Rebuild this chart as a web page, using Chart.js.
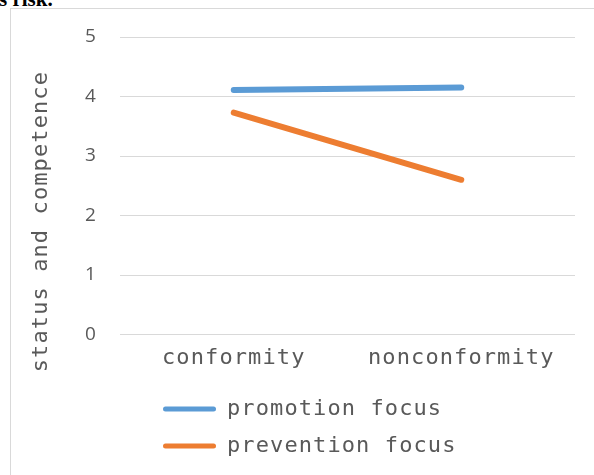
<!DOCTYPE html>
<html>
<head>
    <title>status and competence</title>
    <script src="https://cdn.jsdelivr.net/npm/chart.js"></script>
    <style>
        html, body { margin: 0; padding: 0; background: #fff; overflow: hidden; }
        .caption {
            position: absolute;
            left: -1px;
            top: -11px;
            font: bold 21px "Liberation Serif", serif;
            line-height: 1;
            color: #000;
            white-space: nowrap;
        }
        .chart-container {
            position: absolute;
            left: 10px;
            top: 8px;
            width: 598px;
            height: 470px;
            border: 1px solid #d9d9d9;
        }
    </style>
</head>
<body>
    <div class="caption">s risk.</div>
    <div class="chart-container">
        <canvas id="focusChart" width="598" height="470"></canvas>
    </div>

    <script>
        const categories = ['conformity', 'nonconformity'];
        const promotionFocus = [4.11, 4.15];
        const preventionFocus = [3.73, 2.60];
        const yTicks = [0, 1, 2, 3, 4, 5];

        const textColor = '#595959';
        const monoFont = 'DejaVu Sans Mono';

        // wider letter spacing like the original's mono font
        const spacing = {
            id: 'spacing',
            beforeUpdate(chart) { chart.ctx.letterSpacing = '1.1px'; },
            beforeDraw(chart) { chart.ctx.letterSpacing = '1.1px'; },
            afterLayout(chart) {
                const legend = chart.legend;
                const w = legend.right - legend.left;
                legend.left = 137;
                legend.right = legend.left + w;
            }
        };

        const ctx = document.getElementById('focusChart').getContext('2d');

        const chart = new Chart(ctx, {
            type: 'line',
            data: {
                labels: categories,
                datasets: [
                    {
                        label: 'promotion focus',
                        data: promotionFocus,
                        borderColor: '#5B9BD5',
                        backgroundColor: '#5B9BD5',
                        borderWidth: 6,
                        borderCapStyle: 'round',
                        pointRadius: 0,
                        tension: 0
                    },
                    {
                        label: 'prevention focus',
                        data: preventionFocus,
                        borderColor: '#ED7D31',
                        backgroundColor: '#ED7D31',
                        borderWidth: 6,
                        borderCapStyle: 'round',
                        pointRadius: 0,
                        tension: 0
                    }
                ]
            },
            options: {
                responsive: false,
                animation: false,
                layout: {
                    padding: { top: 28, left: 0, right: 34, bottom: 12 }
                },
                plugins: {
                    tooltip: { enabled: false },
                    legend: {
                        position: 'bottom',
                        align: 'start',
                        labels: {
                            color: textColor,
                            font: { family: monoFont, size: 22 },
                            boxWidth: 53,
                            boxHeight: 5,
                            padding: 15,
                            generateLabels(chart) {
                                return chart.data.datasets.map((ds, i) => ({
                                    text: ds.label,
                                    fillStyle: ds.borderColor,
                                    strokeStyle: ds.borderColor,
                                    lineWidth: 0,
                                    borderRadius: 2.5,
                                    fontColor: textColor,
                                    datasetIndex: i,
                                    hidden: false
                                }));
                            }
                        }
                    }
                },
                scales: {
                    x: {
                        offset: true,
                        grid: { display: false, drawTicks: false },
                        border: { display: false },
                        ticks: {
                            color: textColor,
                            font: { family: monoFont, size: 22 },
                            padding: 11,
                            maxRotation: 0
                        },
                        afterFit(scale) { scale.height = 48.5; }
                    },
                    y: {
                        min: 0,
                        max: 5,
                        afterBuildTicks(scale) {
                            scale.ticks = yTicks.map(v => ({ value: v }));
                        },
                        grid: { color: '#d9d9d9', lineWidth: 1, drawTicks: false },
                        border: { display: false },
                        ticks: {
                            color: textColor,
                            font: { family: 'Open Sans', size: 19 },
                            padding: 23
                        },
                        title: {
                            display: true,
                            text: 'status and competence     ',
                            color: textColor,
                            font: { family: monoFont, size: 22 },
                            padding: { top: 17, bottom: 0 }
                        },
                        afterFit(scale) {
                            scale.width = 109;
                            scale.paddingTop = 0;
                            scale.paddingBottom = 0;
                        }
                    }
                }
            },
            plugins: [spacing]
        });
    </script>
</body>
</html>
